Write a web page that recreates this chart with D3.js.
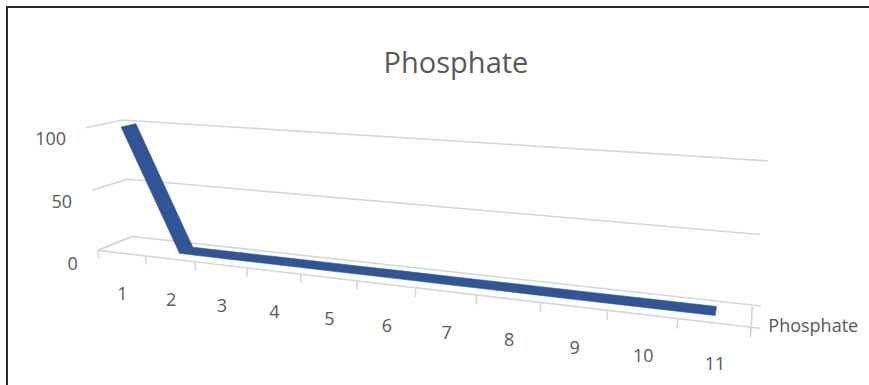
<!DOCTYPE html>
<html>
<head>
<meta charset="utf-8">
<script src="https://cdn.jsdelivr.net/npm/d3@7/dist/d3.min.js"></script>
<style>
  html, body { margin: 0; padding: 0; background: #ffffff; }
  svg { display: block; }
  text { font-family: "Open Sans", "DejaVu Sans", sans-serif; fill: #595959; }
</style>
</head>
<body>
<svg id="chart" width="869" height="385"></svg>
<script>
// ---- data ----
const chartTitle = "Phosphate";
const seriesName = "Phosphate";
const categories = ["1", "2", "3", "4", "5", "6", "7", "8", "9", "10", "11"];
const phosphate = [100, 0.9, 0.8, 0.8, 0.7, 0.7, 0.6, 0.6, 0.5, 0.5, 0.5];
const valueTicks = [0, 50, 100];
const valueMax = 100;

// ---- 3D frame ----
// Box in world units: X 0..1 along the categories, Y 0..1 along the values,
// Z 0 (front) .. 1 (back). Each anchor gives where a box point lands on the page.
const frameAnchors = [
  [0, 0, 0, 97, 249],
  [0, 0, 1, 132, 237],
  [0, 1, 0, 86, 128],
  [0, 1, 1, 122, 120],
  [0, 0.5, 0, 92, 192],
  [0, 0.5, 1, 128, 179],
  [1, 1, 1, 768, 160],
  [1, 0.5, 1, 760, 234],
  [1, 0, 1, 752, 306],
  [1, 0, 0, 751, 328],
  [2 / 11, 0, 0, 196, 261],
  [5 / 11, 0, 0, 357, 280.4],
  [8 / 11, 0, 0, 541, 302.6]
];

const U0 = 430, V0 = 230, S = 400;

function solveLinear(M, r) {
  const n = r.length;
  const A = M.map((row, i) => row.concat([r[i]]));
  for (let k = 0; k < n; k++) {
    let p = k;
    for (let i = k + 1; i < n; i++) if (Math.abs(A[i][k]) > Math.abs(A[p][k])) p = i;
    [A[k], A[p]] = [A[p], A[k]];
    for (let i = k + 1; i < n; i++) {
      const f = A[i][k] / A[k][k];
      for (let j = k; j <= n; j++) A[i][j] -= f * A[k][j];
    }
  }
  const x = new Array(n).fill(0);
  for (let i = n - 1; i >= 0; i--) {
    let s = A[i][n];
    for (let j = i + 1; j < n; j++) s -= A[i][j] * x[j];
    x[i] = s / A[i][i];
  }
  return x;
}

// Direct linear transform: least-squares 3x4 camera matrix (last entry fixed to 1)
function fitCamera(anchors) {
  const rows = [], rhs = [];
  anchors.forEach(([x, y, z, u, v]) => {
    const un = (u - U0) / S, vn = (v - V0) / S;
    rows.push([x, y, z, 1, 0, 0, 0, 0, -un * x, -un * y, -un * z]); rhs.push(un);
    rows.push([0, 0, 0, 0, x, y, z, 1, -vn * x, -vn * y, -vn * z]); rhs.push(vn);
  });
  const n = 11;
  const M = Array.from({ length: n }, () => new Array(n).fill(0));
  const r = new Array(n).fill(0);
  rows.forEach((row, k) => {
    for (let i = 0; i < n; i++) {
      r[i] += row[i] * rhs[k];
      for (let j = 0; j < n; j++) M[i][j] += row[i] * row[j];
    }
  });
  return solveLinear(M, r);
}

const P = fitCamera(frameAnchors);
function project(x, y, z) {
  const w = P[8] * x + P[9] * y + P[10] * z + 1;
  const u = (P[0] * x + P[1] * y + P[2] * z + P[3]) / w;
  const v = (P[4] * x + P[5] * y + P[6] * z + P[7]) / w;
  return [u * S + U0, v * S + V0];
}

// ---- scales (data -> world) ----
const xBand = d3.scaleBand().domain(categories).range([0, 1]).paddingInner(0).paddingOuter(0);
const xEdge = d3.scaleLinear().domain([0, categories.length]).range([0, 1]);
const yWorld = d3.scaleLinear().domain([0, valueMax]).range([0, 1]);
const xMid = c => xBand(c) + xBand.bandwidth() / 2;

const svg = d3.select("#chart");
const pathOf = pts => "M" + pts.map(p => p[0].toFixed(2) + "," + p[1].toFixed(2)).join("L");

// outer frame (top and left edges)
svg.append("path")
  .attr("d", "M7,385L7,7L869,7")
  .attr("fill", "none").attr("stroke", "#2a2a2a").attr("stroke-width", 2);

// title
svg.append("text")
  .attr("x", 456).attr("y", 73)
  .attr("text-anchor", "middle")
  .attr("font-size", 29)
  .text(chartTitle);

const grid = svg.append("g")
  .attr("fill", "none").attr("stroke", "#d6d6d6").attr("stroke-width", 1.6)
  .attr("stroke-linejoin", "round");

// side wall + back wall gridlines
valueTicks.forEach(v => {
  const y = yWorld(v);
  grid.append("path").attr("d", pathOf([project(0, y, 0), project(0, y, 1), project(1, y, 1)]));
});

// floor outline
grid.append("path").attr("d", pathOf([project(0, 0, 1), project(0, 0, 0), project(1, 0, 0), project(1, 0, 1)]));

// category tick marks along the front edge
d3.range(categories.length + 1).forEach(i => {
  const x = xEdge(i);
  grid.append("path").attr("d", pathOf([project(x, 0, 0), project(x, yWorld(-7), 0)]));
});

// series (depth) axis ticks on the right edge
[0, 1].forEach(z => {
  grid.append("path").attr("d", pathOf([project(1, 0, z), project(1.011, 0, z)]));
});

// ---- the 3D line (flat ribbon in depth) ----
const zFront = 0.29, zBack = 0.71;
const ribbon = svg.append("g")
  .attr("fill", "#2f5597").attr("stroke", "#2f5597")
  .attr("stroke-width", 0.6).attr("stroke-linejoin", "round");
d3.pairs(categories.map((c, i) => [xMid(c), yWorld(phosphate[i])])).forEach(([a, b]) => {
  ribbon.append("path").attr("d", pathOf([
    project(a[0], a[1], zFront), project(b[0], b[1], zFront),
    project(b[0], b[1], zBack), project(a[0], a[1], zBack)
  ]) + "Z");
});

// ---- labels ----
const labelY = d3.scaleLinear().domain([0, valueMax])
  .range([project(0, 0, 0)[1] + 13.5, project(0, 1, 0)[1] + 11]);
svg.append("g").selectAll("text").data(valueTicks).join("text")
  .attr("x", v => project(0, yWorld(v), 0)[0] - 20)
  .attr("y", v => labelY(v))
  .attr("dy", "0.35em")
  .attr("text-anchor", "end")
  .attr("font-size", 18)
  .text(v => v);

svg.append("g").selectAll("text").data(categories).join("text")
  .attr("x", c => project(xMid(c), 0, 0)[0] + 1)
  .attr("y", c => project(xMid(c), 0, 0)[1] + 41)
  .attr("dy", "0.35em")
  .attr("text-anchor", "middle")
  .attr("font-size", 18)
  .text(c => c);

const seriesAt = project(1, 0, 0);
svg.append("text")
  .attr("x", seriesAt[0] + 17)
  .attr("y", seriesAt[1] - 2)
  .attr("dy", "0.35em")
  .attr("font-size", 18)
  .text(seriesName);
</script>
</body>
</html>
